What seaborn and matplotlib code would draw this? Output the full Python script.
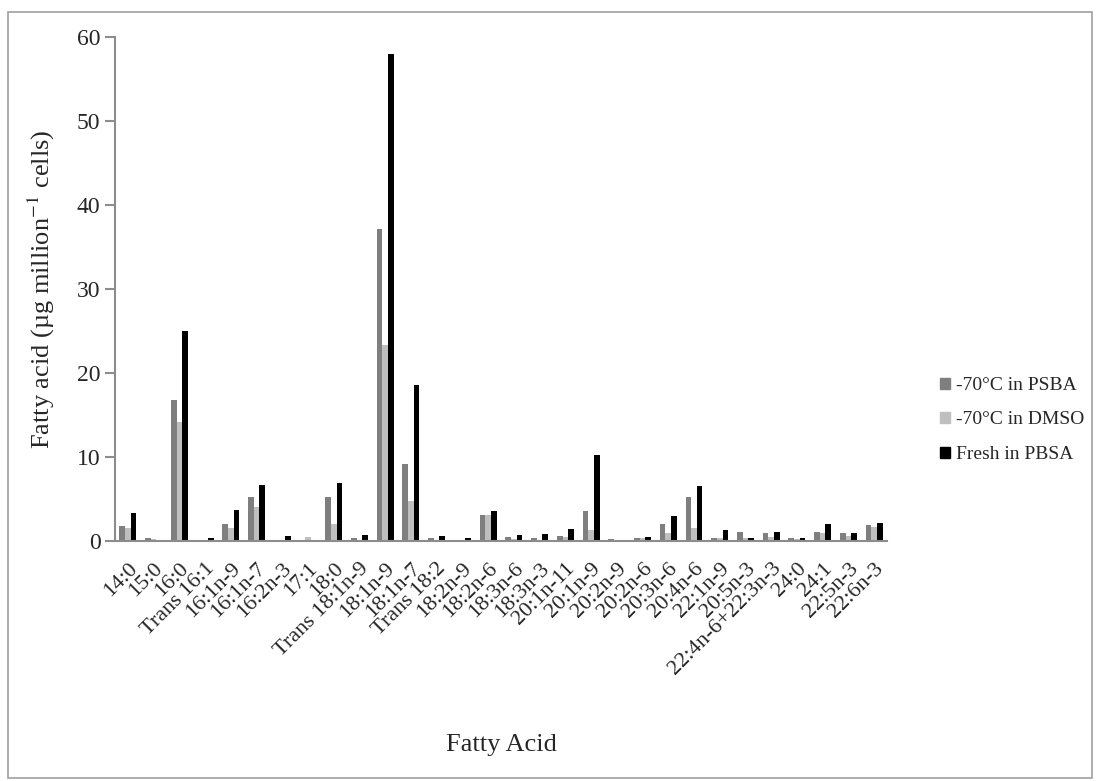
import matplotlib
matplotlib.use("Agg")
import matplotlib.pyplot as plt
import seaborn as sns
import pandas as pd
from matplotlib.patches import Rectangle

categories = ["14:0", "15:0", "16:0", "Trans 16:1", "16:1n-9", "16:1n-7", "16:2n-3", "17:1",
              "18:0", "Trans 18:1n-9", "18:1n-9", "18:1n-7", "Trans 18:2", "18:2n-9", "18:2n-6",
              "18:3n-6", "18:3n-3", "20:1n-11", "20:1n-9", "20:2n-9", "20:2n-6", "20:3n-6",
              "20:4n-6", "22:1n-9", "20:5n-3", "22:4n-6+22:3n-3", "24:0", "24:1", "22:5n-3", "22:6n-3"]
series_names = ["-70°C in PSBA", "-70°C in DMSO", "Fresh in PBSA"]
psba = [1.8, 0.3, 16.8, 0.1, 2.05, 5.2, 0.1, 0.05, 5.2, 0.35, 37.1, 9.2, 0.35, 0.15, 3.1,
        0.5, 0.35, 0.6, 3.6, 0.2, 0.3, 2.0, 5.2, 0.4, 1.1, 0.9, 0.3, 1.1, 0.9, 1.9]
dmso = [1.5, 0.2, 14.2, 0.1, 1.6, 4.1, 0.1, 0.5, 2.0, 0.1, 23.3, 4.8, 0.15, 0.15, 3.1,
        0.2, 0.1, 0.5, 1.3, 0.15, 0.3, 1.0, 1.5, 0.3, 0.4, 0.5, 0.2, 0.9, 0.6, 1.7]
fresh = [3.3, 0.15, 25.0, 0.35, 3.75, 6.65, 0.55, 0.0, 6.9, 0.7, 58.0, 18.6, 0.55, 0.35, 3.6,
         0.7, 0.8, 1.4, 10.2, 0.1, 0.5, 3.0, 6.5, 1.3, 0.3, 1.1, 0.4, 2.0, 0.9, 2.1]
yticks = [0, 10, 20, 30, 40, 50, 60]
colors = ["#7f7f7f", "#bfbfbf", "#000000"]

rows = []
for name, vals in zip(series_names, [psba, dmso, fresh]):
    for c, v in zip(categories, vals):
        rows.append({"acid": c, "value": v, "cond": name})
df = pd.DataFrame(rows)

sns.set_style("white")
serif = ["Liberation Serif", "DejaVu Serif"]
plt.rcParams["font.family"] = serif
plt.rcParams["mathtext.fontset"] = "stix"

fig = plt.figure(figsize=(10.96, 7.81), dpi=100)
W, H = 1096, 781
ax = fig.add_axes([115 / W, 1 - 541 / H, (887 - 115) / W, (541 - 37) / H])

sns.barplot(data=df, x="acid", y="value", hue="cond", order=categories,
            hue_order=series_names, palette=colors, width=0.66, gap=0,
            saturation=1, ax=ax, legend=False, linewidth=0)

ax.set_xlim(-0.5, len(categories) - 0.5)
ax.set_ylim(0, 60)
ax.set_yticks(yticks)
ax.set_yticklabels([str(t) for t in yticks], fontsize=17)
ax.set_xticks(range(len(categories)))
ax.set_xticklabels(categories, rotation=45, ha="right", rotation_mode="anchor", fontsize=16)
ax.set_xticks([i + 0.5 for i in range(-1, len(categories))], minor=True)
ax.tick_params(axis="x", which="major", length=0, pad=13)
ax.tick_params(axis="x", which="minor", length=7, color="#8c8c8c", width=1.5, direction="out")
ax.tick_params(axis="y", length=7, color="#8c8c8c", width=1.5, direction="out", left=True)

for s in ["top", "right"]:
    ax.spines[s].set_visible(False)
for s in ["left", "bottom"]:
    ax.spines[s].set_color("#8c8c8c")
    ax.spines[s].set_linewidth(1.5)

ax.set_xlabel("")
ax.set_ylabel(r"Fatty acid (µg million$^{-1}$ cells)", fontsize=19, labelpad=14)
fig.text(501 / W, 1 - 745 / H, "Fatty Acid", ha="center", va="center", fontsize=19)

handles = [Rectangle((0, 0), 1, 1, color=c) for c in colors]
fig.legend(handles, series_names, loc="center left", bbox_to_anchor=(940 / W, 1 - 420 / H),
           frameon=False, fontsize=14, handlelength=0.5, handleheight=0.5,
           handletextpad=0.3, labelspacing=0.9, borderpad=0, borderaxespad=0)

fig.patches.append(Rectangle((8 / W, 3 / H), (W - 12) / W, (H - 15) / H,
                             transform=fig.transFigure, fill=False,
                             edgecolor="#a0a0a0", linewidth=1.2))

fig.savefig("out.png", dpi=100, facecolor="white")
